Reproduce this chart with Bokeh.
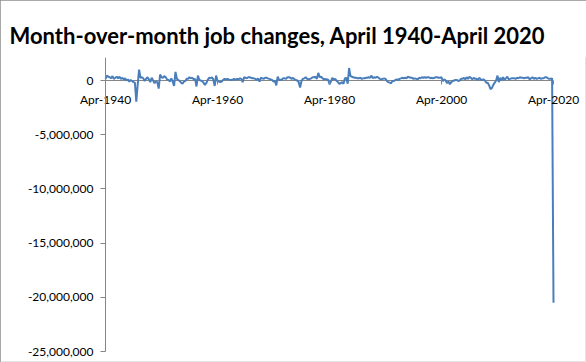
import numpy as np
import pandas as pd
from bokeh.plotting import figure
from bokeh.models import ColumnDataSource, Range1d, FixedTicker, NumeralTickFormatter
from bokeh.embed import file_html
from bokeh.resources import INLINE

title_text = "Month-over-month job changes, April 1940-April 2020"
start_month = "1940-04-01"
end_month = "2020-04-01"

# Month-over-month change in payroll jobs (thousands), read quarterly (Jan/Apr/Jul/Oct)
changes_1940s = [
    150, 450, 350,
    300, 200, 400, 150,
    250, 350, 200, 350,
    150, 250, 100, 200,
    0, 100, -100, 50,
    -50, -150, -200, -1959,
    -350, 1000, 250, 300,
    200, -50, 150, 300,
    100, -150, 250, 0,
    -250, -100, -150, -750,
]
changes_1950s = [
    550, 300, 250, 400,
    300, 100, 50, -100,
    200, -100, -500, 800,
    150, 50, -50, -200,
    -300, -100, -50, 150,
    150, 300, 200, 250,
    100, 150, -550, 450,
    50, 0, -50, -200,
    -400, -250, 50, 250,
    200, 300, 100, -500,
]
changes_1960s = [
    450, -50, -100, -150,
    -100, 50, 150, 100,
    150, 100, 50, 50,
    100, 150, 50, 150,
    100, 200, 150, -150,
    300, 250, 200, 300,
    300, 250, 200, 200,
    150, 50, 200, -100,
    250, 200, 150, 250,
    250, 200, 150, 100,
]
changes_1970s = [
    50, -100, -50, -450,
    350, 50, 50, 100,
    200, 200, 150, 300,
    300, 250, 150, 250,
    100, 50, 0, -150,
    -650, -50, 150, 200,
    300, 150, 100, 150,
    200, 300, 300, 350,
    150, 700, 300, 350,
    200, 100, 150, 100,
]
changes_1980s = [
    100, -350, -100, 250,
    100, 150, 0, -150,
    -300, -250, -150, -300,
    200, 250, -300, 1150,
    400, 350, 300, 250,
    250, 200, 200, 250,
    150, 200, 200, 250,
    250, 300, 250, 450,
    200, 300, 250, 350,
    250, 150, 100, 150,
]
changes_1990s = [
    200, 150, -50, -150,
    -200, -250, -50, -50,
    50, 100, 50, 150,
    200, 250, 200, 250,
    200, 350, 300, 250,
    250, 150, 200, 150,
    100, 250, 200, 300,
    250, 300, 250, 300,
    300, 200, 250, 200,
    250, 300, 300, 250,
]
changes_2000s = [
    250, 300, -50, 100,
    0, -250, -100, -350,
    -150, -50, 0, 50,
    50, -50, 0, 150,
    150, 250, 100, 300,
    150, 350, 250, 100,
    250, 150, 150, 50,
    250, 100, 50, 100,
    0, -200, -200, -450,
    -800, -700, -400, -200,
]
changes_2010s = [
    0, 450, -150, 250,
    50, 300, 50, 200,
    350, 100, 150, 200,
    200, 200, 150, 250,
    200, 300, 250, 250,
    200, 250, 250, 300,
    100, 200, 300, 150,
    250, 150, 200, 250,
    150, 200, 200, 300,
    300, 200, 150, 150,
]
changes_2020 = [200, -20500]

x_tick_dates = ["1940-04-01", "1960-04-01", "1980-04-01", "2000-04-01", "2020-04-01"]
x_tick_labels = ["Apr-1940", "Apr-1960", "Apr-1980", "Apr-2000", "Apr-2020"]
y_ticks = [-25000000, -20000000, -15000000, -10000000, -5000000, 0]
y_axis_min = -25000000

changes_k = (changes_1940s + changes_1950s + changes_1960s + changes_1970s +
             changes_1980s + changes_1990s + changes_2000s + changes_2010s + changes_2020)
dates = pd.date_range(start_month, end_month, freq="3MS")
assert len(dates) == len(changes_k), (len(dates), len(changes_k))

def ms(d):
    return pd.Timestamp(d).value / 1e6

src = ColumnDataSource(dict(date=dates, jobs=np.array(changes_k) * 1000))
zero_src = ColumnDataSource(dict(date=[dates[0], dates[-1]], jobs=[0, 0]))

FONT = "Lato"
AXIS_GREY = "#868686"

# layout in pixels (figure coords)
W, H = 586, 362
frame_left, frame_right = 1, 585
frame_top, frame_bottom = 57, 361
axis_px, end_px = 105, 553
zero_px, min_px = 80, 351
t0, t1 = ms(start_month), ms(end_month)
per_px = (t1 - t0) / (end_px - axis_px)
x_start = t0 - (axis_px - frame_left) * per_px
x_end = t1 + (frame_right - end_px) * per_px
y_per_px = -y_axis_min / (min_px - zero_px)
y_top = (zero_px - frame_top) * y_per_px
y_bottom = y_axis_min - (frame_bottom - min_px) * y_per_px

p = figure(width=W, height=H, x_axis_type="datetime",
           output_backend="svg", toolbar_location=None,
           x_range=Range1d(x_start, x_end), y_range=Range1d(y_bottom, y_top),
           min_border_left=frame_left, min_border_right=W - frame_right,
           min_border_top=frame_top, min_border_bottom=H - frame_bottom)
p.styles = {"outline": "1px solid #8c8c8c", "outline-offset": "-1px"}

p.title.text = title_text
p.title.text_font = FONT
p.title.text_font_size = "22px"
p.title.text_font_style = "bold"
p.title.text_color = "#000000"
p.title.align = "left"
p.title.offset = 8
p.title.standoff = 18

p.xgrid.visible = False
p.ygrid.visible = False
p.outline_line_color = None
p.background_fill_color = "white"
p.border_fill_color = "white"

ay = p.yaxis[0]
ay.fixed_location = t0
ay.bounds = (y_axis_min, y_top)
ay.ticker = FixedTicker(ticks=y_ticks)
ay.formatter = NumeralTickFormatter(format="0,0")
ay.axis_line_color = AXIS_GREY
ay.major_tick_line_color = AXIS_GREY
ay.major_tick_out = 5
ay.major_tick_in = 0
ay.minor_tick_line_color = None
ay.major_label_text_font = FONT
ay.major_label_text_font_size = "12px"
ay.major_label_text_color = "#000000"
ay.major_label_standoff = 7

tick_ms = [ms(d) for d in x_tick_dates]
ax = p.xaxis[0]
ax.fixed_location = 0
ax.ticker = FixedTicker(ticks=tick_ms)
ax.major_label_overrides = {t: lab for t, lab in zip(tick_ms, x_tick_labels)}
ax.axis_line_color = None
ax.major_tick_line_color = AXIS_GREY
ax.major_tick_out = 4
ax.major_tick_in = 0
ax.minor_tick_line_color = None
ax.major_label_text_font = FONT
ax.major_label_text_font_size = "12px"
ax.major_label_text_color = "#000000"
ax.major_label_standoff = 7

p.line("date", "jobs", source=zero_src, line_color=AXIS_GREY, line_width=1)
p.line("date", "jobs", source=src, line_color="#4A7EBB", line_width=2)

open("out.html", "w").write(file_html(p, INLINE))
